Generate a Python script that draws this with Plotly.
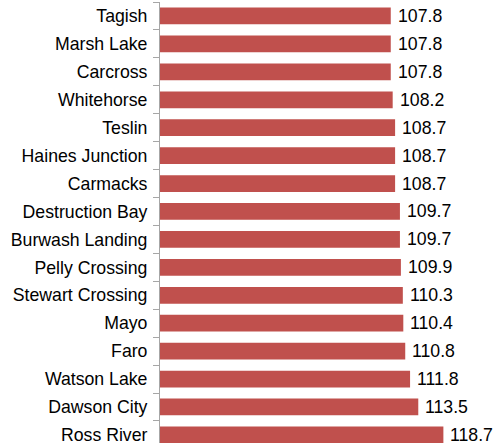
import plotly.graph_objects as go

communities = ["Tagish", "Marsh Lake", "Carcross", "Whitehorse", "Teslin",
               "Haines Junction", "Carmacks", "Destruction Bay", "Burwash Landing",
               "Pelly Crossing", "Stewart Crossing", "Mayo", "Faro", "Watson Lake",
               "Dawson City", "Ross River"]
values = [107.8, 107.8, 107.8, 108.2, 108.7, 108.7, 108.7, 109.7, 109.7,
          109.9, 110.3, 110.4, 110.8, 111.8, 113.5, 118.7]

FONT = "Liberation Sans, Arial"
fig = go.Figure(go.Bar(
    x=values, y=communities, orientation="h",
    marker=dict(color="#C0504D", line=dict(width=0)),
    hoverinfo="skip",
))

for c, v in zip(communities, values):
    fig.add_annotation(x=v, y=c, text=f"{v:.1f}", showarrow=False,
                       xanchor="left", yanchor="middle", xshift=5,
                       font=dict(family=FONT, size=17.7, color="#000000"))

fig.update_layout(
    width=496, height=443,
    margin=dict(l=160, r=0, t=2, b=0, autoexpand=False),
    paper_bgcolor="white", plot_bgcolor="white",
    bargap=0.4, showlegend=False,
    font=dict(family=FONT, size=17.7, color="#000000"),
    xaxis=dict(range=[60, 129.6], showgrid=False, showticklabels=False,
               zeroline=False, showline=False, ticks="", automargin=False),
    yaxis=dict(type="category", range=[-0.5 + 441 / 27.93, -0.5],
               showgrid=False, showline=True, linecolor="#A6A6A6", linewidth=1,
               ticks="outside", ticklen=6, tickcolor="#A6A6A6", tickson="boundaries",
               ticklabelstandoff=8, automargin=False),
)
fig.write_html("out.html", config={"displayModeBar": False},
               post_script="document.body.style.margin='0';document.body.style.overflow='hidden';")
